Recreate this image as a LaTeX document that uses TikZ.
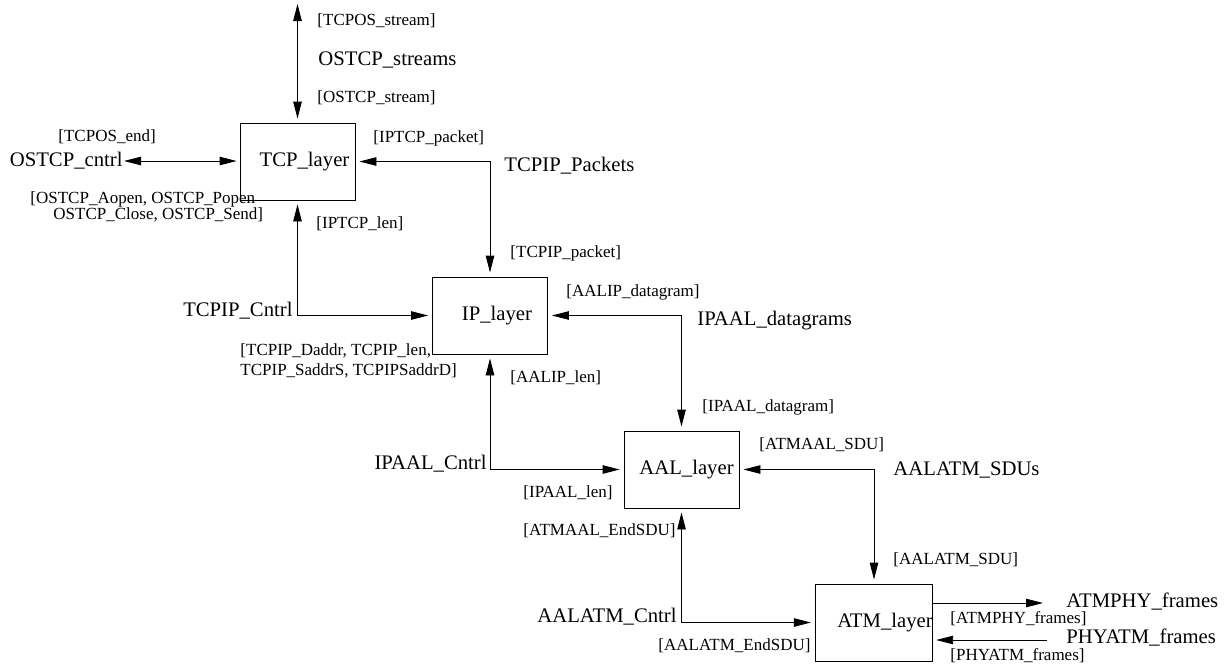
\documentclass[tikz,border=0pt]{standalone}
\usepackage{fontspec}
\setmainfont{Liberation Serif}
\usetikzlibrary{arrows.meta, positioning}

\begin{document}
\begin{tikzpicture}[x=1pt, y=-1pt, line width=0.9pt,
    >={Triangle[length=17pt, width=8.5pt]},
    layer/.style={draw, minimum width=115pt, minimum height=77pt, inner sep=0pt, font=\fontsize{20.7}{24}\selectfont},
    port/.style={inner sep=0pt, font=\fontsize{20.7}{24}\selectfont},
    sig/.style={inner sep=0pt, anchor=west, font=\fontsize{17}{20}\selectfont},
    gap/.style={shorten <=4pt, shorten >=4pt}]
  \useasboundingbox (0,0) rectangle (1230,664);

  % the four layers
  \node[layer] (tcp) at (297.5,161.5) {\hspace*{14pt}TCP\_layer};
  \node[layer] (ip)  at (490,315.5)   {\hspace*{14pt}IP\_layer};
  \node[layer] (aal) at (681.5,469.5) {\hspace*{10pt}AAL\_layer};
  \node[layer] (atm) at (874,622.5)   {\hspace*{22pt}ATM\_layer};

  % channel names
  \node[port, anchor=west] (ostcpstreams) at (318,60) {OSTCP\_streams};
  \node[port, anchor=east] (ostcpcntrl) at (123,161) {OSTCP\_cntrl};
  \node[port, anchor=west] (tcpippackets) at (504,166) {TCPIP\_Packets};
  \node[port, anchor=base east] (tcpipcntrl) at (293,316) {TCPIP\_Cntrl};
  \node[port, anchor=west] (ipaaldatagrams) at (697,321) {IPAAL\_datagrams};
  \node[port, anchor=base east] (ipaalcntrl) at (487,469) {IPAAL\_Cntrl};
  \node[port, anchor=west] (aalatmsdus) at (893,470) {AALATM\_SDUs};
  \node[port, anchor=base east] (aalatmcntrl) at (677,622) {AALATM\_Cntrl};
  \node[port, anchor=west] (atmphy) at (1066,602) {ATMPHY\_frames};
  \node[port, anchor=west] (phyatm) at (1066,638) {PHYATM\_frames};

  % signal labels
  \node[sig] (tcposstream) at (317,21) {[TCPOS\_stream]};
  \node[sig] (ostcpstream) at (317,98) {[OSTCP\_stream]};
  \node[sig] (tcposend) at (58,137) {[TCPOS\_end]};
  \node[sig, anchor=north west, align=left, font=\fontsize{17}{15}\selectfont] (ostcpcmds) at (30,191)
    {[OSTCP\_Aopen, OSTCP\_Popen\\\hspace*{23pt}OSTCP\_Close, OSTCP\_Send]};
  \node[sig] (iptcppacket) at (373,138) {[IPTCP\_packet]};
  \node[sig] (iptcplen) at (316,224) {[IPTCP\_len]};
  \node[sig] (tcpippacket) at (510,253) {[TCPIP\_packet]};
  \node[sig, anchor=north west, align=left, font=\fontsize{17}{20}\selectfont] (tcpipaddr) at (240,343)
    {[TCPIP\_Daddr, TCPIP\_len,\\TCPIP\_SaddrS, TCPIPSaddrD]};
  \node[sig] (aalipdatagram) at (566,292) {[AALIP\_datagram]};
  \node[sig] (aaliplen) at (510,378) {[AALIP\_len]};
  \node[sig] (ipaaldatagram) at (702,407) {[IPAAL\_datagram]};
  \node[sig] (ipaallen) at (523,493) {[IPAAL\_len]};
  \node[sig] (atmaalsdu) at (759,445) {[ATMAAL\_SDU]};
  \node[sig] (aalatmsdu) at (893,560) {[AALATM\_SDU]};
  \node[sig] (atmaalendsdu) at (523,531) {[ATMAAL\_EndSDU]};
  \node[sig] (aalatmendsdu) at (658,646) {[AALATM\_EndSDU]};
  \node[sig] (atmphyframes) at (950,619) {[ATMPHY\_frames]};
  \node[sig] (phyatmframes) at (950,656) {[PHYATM\_frames]};

  \coordinate (ostop) at (297.5,4);

  % connectors
  \draw[<->, shorten >=4pt] (ostop) -- (tcp.north);
  \draw[<->, shorten <=1pt, shorten >=3pt] (ostcpcntrl.east) -- (ostcpcntrl.east -| tcp.west);
  \draw[<->, gap] (tcp.east) -| (ip.north);
  \draw[<->, gap] (tcp.south) |- (ip.west);
  \draw[<->, gap] (ip.east) -| (aal.north);
  \draw[<->, gap] (ip.south) |- (aal.west);
  \draw[<->, gap] (aal.east) -| (atm.north);
  \draw[<->, gap] (aal.south) |- (atm.west);
  \draw[->] ([yshift=19.5pt]atm.east) -- ([yshift=19.5pt]atm.east -| atmphy.west) [shorten >=23pt];
  \draw[->, shorten <=19pt, shorten >=3pt] ([yshift=-17.5pt]atm.east -| phyatm.west) -- ([yshift=-17.5pt]atm.east);
\end{tikzpicture}
\end{document}
